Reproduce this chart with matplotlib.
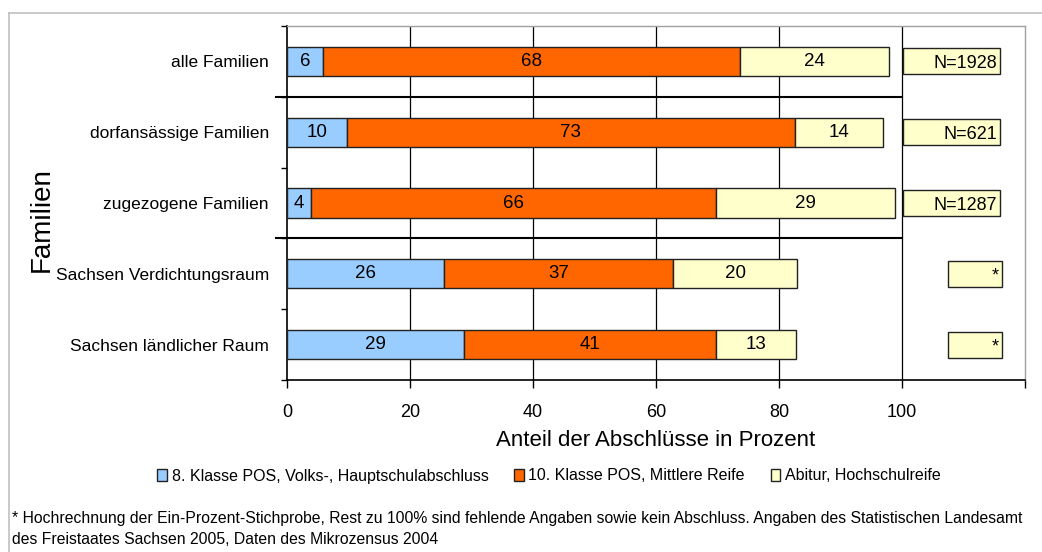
import numpy as np
import matplotlib.pyplot as plt
from matplotlib.lines import Line2D

plt.rcParams['font.family'] = ['Liberation Sans', 'DejaVu Sans']

# data
categories = ['alle Familien', 'dorfansässige Familien', 'zugezogene Familien',
              'Sachsen Verdichtungsraum', 'Sachsen ländlicher Raum']
hauptschule = [5.8, 9.7, 3.9, 25.6, 28.7]
mittlere_reife = [67.9, 72.9, 65.9, 37.2, 41.1]
abitur = [24.2, 14.3, 29.1, 20.2, 13.0]
n_labels = ['N=1928', 'N=621', 'N=1287', '*', '*']
series_names = ['8. Klasse POS, Volks-, Hauptschulabschluss',
                '10. Klasse POS, Mittlere Reife',
                'Abitur, Hochschulreife']
colors = ['#99CCFF', '#FF6600', '#FFFFCC']
xticks = [0, 20, 40, 60, 80, 100, 120]

W, H = 1042, 552
fig = plt.figure(figsize=(W / 100, H / 100), dpi=100)
ax = fig.add_axes([287 / W, 1 - 380 / H, (1025 - 287) / W, (380 - 26) / H])

y = np.arange(len(categories))
left = np.zeros(len(categories))
bars = []
for vals, col, name in zip([hauptschule, mittlere_reife, abitur], colors, series_names):
    b = ax.barh(y, vals, left=left, height=0.41, color=col, edgecolor='#222222',
                linewidth=1.0, label=name, zorder=3)
    ax.bar_label(b, labels=[f'{round(v)}' for v in vals], label_type='center',
                 fontsize=13.5, zorder=4)
    left = left + np.array(vals)
    bars.append(b)

# N boxes on the right
for i, lab in enumerate(n_labels):
    bl = 100.2 if lab.startswith('N') else 107.5
    br = 115.9 if lab.startswith('N') else 116.2
    ax.barh(i, br - bl, left=bl, height=0.37, color='#FFFFCC',
            edgecolor='#222222', linewidth=1.0, zorder=3)
    ax.text(br - 0.4, i, lab, ha='right', va='center_baseline', fontsize=13, zorder=4)

ax.set_xlim(0, 120)
ax.set_ylim(len(categories) - 0.5, -0.5)

# vertical grid lines
for xv in xticks[1:-1]:
    ax.axvline(xv, color='black', linewidth=0.9, zorder=1)

# group separators
for sy in [0.5, 2.5]:
    ax.plot([-1.8, 100], [sy, sy], color='black', linewidth=1.5,
            clip_on=False, zorder=2)

ax.set_xticks(xticks)
ax.set_xticklabels([str(t) if t <= 100 else '' for t in xticks], fontsize=13)
ax.tick_params(axis='x', direction='out', length=6, width=1, pad=11)

ax.set_yticks(y)
ax.set_yticklabels(categories, fontsize=12.5)
ax.set_yticks(np.arange(-0.5, len(categories)), minor=True)
ax.tick_params(axis='y', which='major', length=0, pad=13)
ax.tick_params(axis='y', which='minor', direction='out', length=4, width=1)

for s in ['top', 'right']:
    ax.spines[s].set_color('#a0a0a0')
    ax.spines[s].set_linewidth(1.0)
for s in ['left', 'bottom']:
    ax.spines[s].set_color('black')
    ax.spines[s].set_linewidth(1.2)

ax.set_xlabel('Anteil der Abschlüsse in Prozent', fontsize=16)
ax.xaxis.set_label_coords(0.5, -(430 - 380) / (380 - 26))
ax.set_ylabel('Familien', fontsize=20)
ax.yaxis.set_label_coords((55 - 287) / (1025 - 287), (380 - 220) / (380 - 26))

fig.legend(handles=bars, labels=series_names, loc='center',
           bbox_to_anchor=(549 / W, 1 - 476 / H), ncol=3, frameon=False,
           fontsize=11.5, handlelength=0.6, handleheight=0.8, handletextpad=0.3,
           columnspacing=1.6)

fig.text(12 / W, 1 - 518 / H,
         '* Hochrechnung der Ein-Prozent-Stichprobe, Rest zu 100% sind fehlende Angaben '
         'sowie kein Abschluss. Angaben des Statistischen Landesamt',
         fontsize=11.3, va='center', ha='left')
fig.text(12 / W, 1 - 540 / H,
         'des Freistaates Sachsen 2005, Daten des Mikrozensus 2004',
         fontsize=11.3, va='center', ha='left')

# outer frame
fig.add_artist(Line2D([9 / W, 9 / W], [0, 1 - 13 / H], color='#c0c0c0', linewidth=1.2))
fig.add_artist(Line2D([9 / W, 1], [1 - 13 / H, 1 - 13 / H], color='#c0c0c0', linewidth=1.2))

fig.savefig('out.png', dpi=100)
